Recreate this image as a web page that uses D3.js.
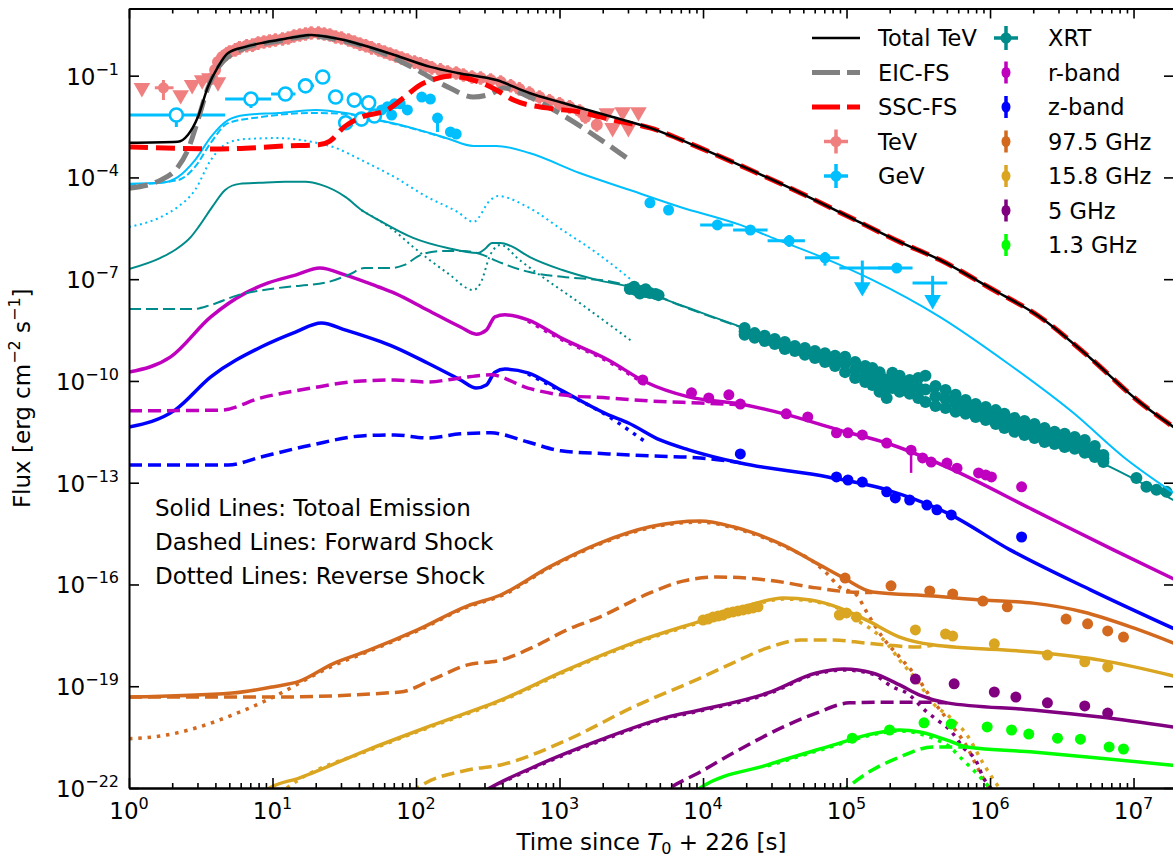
<!DOCTYPE html>
<html>
<head>
<meta charset="utf-8">
<script src="https://cdn.jsdelivr.net/npm/d3@7"></script>
<style>
  body { margin: 0; background: #fff; }
  svg { display: block; font-family: "DejaVu Sans", sans-serif; }
</style>
</head>
<body>
<svg id="chart" width="1173" height="858"></svg>
<script>
// every value below is [log10 t, log10 flux]
// (error-bar arrays add [xlo, xhi, ylo, yhi] in the same log units)

// ---- model curves ----
const totalTeV = [[0,-2.98],[0.34,-2.95],[0.41,-2.75],[0.48,-2.22],[0.55,-1.33],[0.62,-0.74],[0.69,-0.33],[0.81,-0.15],[0.92,-0.04],[1.04,0.05],[1.16,0.14],[1.27,0.2],[1.39,0.14],[1.5,0.05],[1.62,-0.09],[1.85,-0.39],[2.1,-0.74],[2.29,-0.92],[2.56,-1.13],[2.79,-1.51],[3.02,-1.8],[3.37,-2.22],[3.63,-2.54],[3.98,-3.13],[4.33,-3.78],[4.68,-4.46],[5.02,-5.17],[5.37,-5.9],[5.65,-6.43],[6.0,-7.26],[6.35,-8.12],[6.7,-9.33],[7.05,-10.65],[7.3,-11.42]];
const sscFS = [[0,-3.1],[0.64,-3.16],[1.11,-3.07],[1.32,-3.04],[1.4,-2.93],[1.5,-2.51],[1.62,-2.22],[1.8,-2.01],[1.92,-1.63],[2.03,-1.27],[2.13,-1.1],[2.24,-1.01],[2.4,-1.13],[2.56,-1.42],[2.68,-1.72],[2.91,-1.95],[3.14,-2.07],[3.37,-2.31],[3.63,-2.54],[3.98,-3.13],[4.33,-3.78],[4.68,-4.46],[5.02,-5.17],[5.37,-5.9],[5.65,-6.43],[6.0,-7.26],[6.35,-8.12],[6.7,-9.33],[7.05,-10.65],[7.3,-11.42]];
const eicFS = [[0,-4.32],[0.22,-4.08],[0.34,-3.7],[0.41,-3.19],[0.48,-2.31],[0.55,-1.36],[0.62,-0.77],[0.81,-0.18],[1.04,0.02],[1.27,0.17],[1.5,0.02],[1.75,-0.3],[1.98,-0.77],[2.22,-1.33],[2.4,-1.63],[2.52,-1.54],[2.61,-1.36],[2.79,-1.63],[3.02,-2.16],[3.26,-2.81],[3.51,-3.55]];

const gevTot = [[0,-4.19],[0.22,-4.16],[0.34,-3.99],[0.46,-3.49],[0.57,-2.81],[0.69,-2.31],[0.81,-2.16],[1.04,-2.1],[1.3,-2.01],[1.51,-2.1],[1.74,-2.31],[1.97,-2.54],[2.22,-2.85],[2.4,-3.07],[2.56,-3.07],[2.79,-3.28],[3.14,-3.87],[3.49,-4.37],[3.84,-4.87],[4.26,-5.4],[4.49,-5.79],[4.84,-6.37],[5.18,-7.02],[5.65,-8.11],[6.12,-9.47],[6.58,-10.94],[6.93,-12.24],[7.3,-13.36]];
const gevFS = [[0,-4.22],[0.34,-4.08],[0.46,-3.69],[0.57,-2.98],[0.69,-2.4],[0.92,-2.22],[1.27,-2.1],[1.51,-2.13],[1.74,-2.32],[1.97,-2.55],[2.22,-2.86]];
const gevRS = [[0,-5.46],[0.22,-5.17],[0.34,-4.87],[0.46,-4.37],[0.57,-3.49],[0.69,-2.98],[0.81,-2.87],[1.04,-2.84],[1.27,-2.95],[1.44,-3.13],[1.62,-3.49],[1.85,-3.99],[2.08,-4.58],[2.29,-5.02],[2.4,-5.31],[2.52,-4.66],[2.57,-4.55],[2.79,-4.9],[3.02,-5.55],[3.26,-6.23],[3.51,-7.05]];

const xrtTot = [[0,-6.7],[0.22,-6.37],[0.32,-6.14],[0.43,-5.76],[0.49,-5.43],[0.58,-4.87],[0.67,-4.37],[0.77,-4.19],[0.91,-4.16],[1.09,-4.13],[1.23,-4.13],[1.34,-4.22],[1.51,-4.58],[1.62,-4.96],[1.75,-5.28],[1.98,-5.78],[2.22,-6.08],[2.43,-6.23],[2.48,-6.11],[2.53,-5.93],[2.59,-5.93],[2.66,-6.02],[2.79,-6.34],[3.02,-6.73],[3.26,-7.02],[3.49,-7.23],[3.84,-7.76],[4.33,-8.5],[5.02,-9.44],[5.72,-10.5],[6.42,-11.74],[6.84,-12.54],[7.3,-13.56]];
const xrtFS = [[0,-7.88],[0.45,-7.88],[0.57,-7.76],[0.76,-7.47],[1.04,-7.26],[1.39,-7.08],[1.54,-6.85],[1.64,-6.67],[1.83,-6.67],[1.92,-6.58],[2.03,-6.29],[2.17,-6.17],[2.33,-6.17],[2.47,-6.29],[2.56,-6.46],[2.79,-6.79],[3.02,-6.93],[3.37,-7.08],[3.56,-7.29],[3.84,-7.77],[4.33,-8.51]];
const xrtRS = [[1.62,-4.97],[1.75,-5.29],[1.85,-5.58],[1.98,-6.05],[2.22,-6.82],[2.4,-7.32],[2.45,-7.11],[2.52,-6.26],[2.59,-5.99],[2.72,-6.43],[2.91,-7.02],[3.14,-7.7],[3.37,-8.41],[3.51,-8.85]];

const rTot = [[0,-9.74],[0.29,-9.29],[0.57,-8.11],[0.81,-7.41],[0.97,-7.11],[1.16,-6.88],[1.33,-6.67],[1.51,-6.88],[1.74,-7.23],[1.85,-7.41],[2.08,-7.91],[2.31,-8.41],[2.42,-8.62],[2.49,-8.5],[2.55,-8.11],[2.62,-8.05],[2.78,-8.2],[3.01,-8.73],[3.34,-9.38],[3.6,-10.03],[3.9,-10.47],[4.26,-10.68],[4.59,-11.0],[4.95,-11.45],[5.28,-11.83],[5.7,-12.54],[6.3,-13.8],[6.86,-14.98],[7.3,-15.88]];
const rFS = [[0,-10.88],[0.64,-10.86],[0.92,-10.5],[1.27,-10.21],[1.62,-10.0],[1.85,-9.97],[2.08,-10.03],[2.31,-9.91],[2.52,-9.82],[2.78,-10.21],[3.01,-10.41],[3.34,-10.5],[3.63,-10.59],[3.98,-10.65],[4.26,-10.7]];
const rRS = [[2.78,-8.23],[3.01,-8.77],[3.34,-9.43],[3.55,-9.97],[3.62,-10.16]];

const zTot = [[0,-11.36],[0.32,-10.86],[0.57,-9.88],[0.92,-9.0],[1.16,-8.56],[1.34,-8.29],[1.51,-8.5],[1.85,-9.0],[2.08,-9.47],[2.31,-9.97],[2.42,-10.21],[2.49,-10.12],[2.55,-9.74],[2.62,-9.65],[2.78,-9.76],[3.01,-10.27],[3.34,-11.0],[3.48,-11.24],[3.7,-11.74],[3.9,-12.03],[4.26,-12.42],[4.87,-12.83],[5.28,-13.21],[5.7,-13.89],[6.14,-14.98],[6.7,-16.16],[7.3,-17.34]];
const zFS = [[0,-12.48],[0.69,-12.48],[0.92,-12.24],[1.27,-11.89],[1.62,-11.62],[1.85,-11.59],[2.08,-11.68],[2.31,-11.56],[2.52,-11.53],[2.78,-11.8],[3.01,-12.06],[3.34,-12.15],[3.63,-12.21],[3.98,-12.27],[4.26,-12.41]];
const zRS = [[2.78,-9.79],[3.01,-10.3],[3.34,-11.04],[3.5,-11.5],[3.6,-11.8]];

const g97Tot = [[0,-19.32],[0.72,-19.2],[1.0,-19.02],[1.19,-18.85],[1.42,-18.34],[1.66,-17.96],[2.01,-17.34],[2.36,-16.63],[2.59,-16.31],[2.93,-15.48],[3.28,-14.78],[3.63,-14.3],[3.98,-14.13],[4.21,-14.3],[4.33,-14.45],[4.56,-14.84],[4.79,-15.37],[4.98,-15.81],[5.18,-16.22],[5.6,-16.34],[5.95,-16.46],[6.3,-16.55],[6.65,-16.81],[7.0,-17.28],[7.3,-17.76]];
const g97FS = [[0,-19.32],[0.96,-19.32],[1.89,-19.17],[2.12,-18.79],[2.36,-18.37],[2.59,-18.23],[2.82,-17.84],[3.05,-17.34],[3.28,-16.96],[3.63,-16.25],[3.86,-15.9],[4.1,-15.78],[4.45,-15.87],[4.79,-16.1],[5.02,-16.22],[5.18,-16.24]];
const g97RS = [[0,-20.55],[0.26,-20.44],[0.49,-20.2],[0.72,-19.85],[0.96,-19.41],[1.1,-19.11],[1.19,-18.9],[1.42,-18.4],[1.66,-17.99],[2.01,-17.37],[2.36,-16.66],[2.59,-16.34],[2.93,-15.51],[3.28,-14.81],[3.63,-14.33],[3.98,-14.16],[4.21,-14.33],[4.33,-14.48],[4.56,-14.87],[4.79,-15.4],[4.86,-15.66],[4.95,-16.07],[5.07,-16.31],[5.14,-16.81],[5.25,-17.55],[5.37,-18.14],[5.49,-18.73],[5.6,-19.41],[5.72,-20.08],[5.84,-20.79],[5.91,-21.38],[5.98,-21.91],[6.02,-22.2]];

const g15Tot = [[0.9,-22.25],[0.98,-22.0],[1.19,-21.7],[1.66,-20.88],[2.12,-20.14],[2.59,-19.41],[3.05,-18.52],[3.51,-17.73],[4.05,-16.99],[4.33,-16.6],[4.56,-16.4],[4.75,-16.46],[4.95,-16.69],[5.14,-17.05],[5.37,-17.55],[5.6,-17.78],[6.3,-17.99],[6.77,-18.23],[7.3,-18.72]];
const g15FS = [[1.95,-22.2],[2.01,-22.0],[2.36,-21.47],[2.59,-21.32],[3.05,-20.59],[3.51,-19.62],[3.98,-18.76],[4.21,-18.31],[4.45,-17.87],[4.68,-17.64],[4.91,-17.64],[5.14,-17.73],[5.49,-17.84],[5.6,-17.79]];
const g15RS = [[1.1,-22.0],[1.19,-21.74],[1.66,-20.91],[2.12,-20.17],[2.59,-19.44],[3.05,-18.55],[3.51,-17.76],[4.05,-17.02],[4.33,-16.63],[4.56,-16.43],[4.75,-16.49],[4.95,-16.72],[5.07,-17.05],[5.18,-17.34],[5.28,-17.73],[5.37,-18.23],[5.49,-18.82],[5.6,-19.49],[5.72,-19.91],[5.84,-20.44],[5.95,-21.26],[6.05,-21.91],[6.1,-22.2]];

const g5Tot = [[2.4,-22.3],[2.49,-22.06],[2.82,-21.38],[3.28,-20.59],[3.75,-19.91],[3.98,-19.7],[4.45,-19.2],[4.79,-18.61],[4.98,-18.49],[5.18,-18.61],[5.37,-18.96],[5.51,-19.26],[5.7,-19.49],[6.3,-19.7],[6.77,-19.91],[7.3,-20.22]];
const g5FS = [[3.68,-22.3],[3.75,-22.06],[3.98,-21.53],[4.21,-20.97],[4.56,-20.2],[4.79,-19.79],[5.02,-19.49],[5.25,-19.47],[5.51,-19.47],[5.7,-19.49]];
const g5RS = [[2.42,-22.3],[2.51,-22.05],[2.82,-21.41],[3.28,-20.62],[3.75,-19.94],[3.98,-19.73],[4.45,-19.23],[4.79,-18.64],[4.98,-18.52],[5.18,-18.64],[5.32,-19.02],[5.42,-19.2],[5.56,-19.76],[5.65,-20.05],[5.72,-20.29],[5.81,-20.79],[5.91,-21.26],[5.95,-21.67],[6.0,-21.97],[6.04,-22.2]];

const g13Tot = [[3.9,-22.25],[3.98,-22.0],[4.45,-21.32],[4.91,-20.73],[5.14,-20.44],[5.37,-20.29],[5.51,-20.35],[5.7,-20.59],[5.84,-20.79],[6.3,-20.94],[6.77,-21.12],[7.3,-21.34]];
const g13FS = [[4.94,-22.2],[5.0,-22.0],[5.18,-21.47],[5.37,-21.09],[5.6,-20.79],[5.84,-20.79]];
const g13RS = [[4.45,-21.35],[4.91,-20.76],[5.14,-20.47],[5.37,-20.32],[5.49,-20.38],[5.6,-20.53],[5.72,-20.79],[5.81,-21.17],[5.87,-21.41],[5.93,-21.67],[5.98,-21.91],[6.02,-22.2]];

// ---- observations ----
const tevPoints = [[0.58,-1.07],[0.6,-0.83],[0.62,-0.6],[0.65,-0.45],[0.68,-0.36],[0.7,-0.3],[0.74,-0.24],[0.77,-0.18],[0.82,-0.12],[0.86,-0.1],[0.9,-0.04],[0.94,-0.01],[0.98,0.02],[1.02,0.05],[1.07,0.08],[1.11,0.11],[1.15,0.17],[1.19,0.2],[1.23,0.23],[1.27,0.26],[1.32,0.26],[1.36,0.23],[1.4,0.2],[1.44,0.14],[1.48,0.11],[1.53,0.05],[1.57,-0.01],[1.61,-0.07],[1.65,-0.12],[1.69,-0.18],[1.74,-0.24],[1.78,-0.3],[1.82,-0.36],[1.86,-0.42],[1.9,-0.48],[1.94,-0.54],[1.99,-0.6],[2.03,-0.65],[2.07,-0.71],[2.11,-0.77],[2.17,-0.83],[2.22,-0.89],[2.28,-0.92],[2.33,-0.98],[2.39,-1.04],[2.45,-1.07],[2.52,-1.13],[2.59,-1.19],[2.66,-1.3],[2.72,-1.39],[2.79,-1.51],[2.86,-1.63],[2.93,-1.74],[3.0,-1.83],[3.07,-1.92],[3.14,-2.04],[3.18,-2.22],[3.26,-2.45]];
const tevErr = 0.2;
const tevCross = [[0.24,-1.36,0.18,0.31,-1.72,-1.13]];
const tevLimits = [[0.09,-1.36],[0.36,-1.57],[0.44,-1.27],[0.51,-1.13],[0.56,-1.07],[0.62,-1.19],[3.33,-2.1],[3.44,-2.07],[3.55,-2.07],[3.37,-2.54],[3.48,-2.54]];

const gevOpen = [[0.33,-2.16,0,0.67,-2.51,null],[0.85,-1.69,0.67,0.99,-1.95,null],[1.09,-1.54,0.99,1.16,-1.7,null],[1.23,-1.3,1.19,1.29,null,null],[1.35,-1.04,null,null,null,null],[1.44,-1.63,null,null,null,null],[1.57,-1.72,null,null,null,null],[1.67,-1.8,null,null,null,null],[1.51,-2.39,null,null,null,null],[1.62,-2.28,null,null,null,null],[1.71,-2.19,null,null,null,null]];
const gevFilled = [[1.76,-2.01,null,null,null,null],[1.8,-1.92,null,null,null,null],[1.85,-1.83,null,null,null,null],[1.83,-2.16,null,null,null,null],[1.89,-1.83,null,null,null,null],[1.94,-2.01,null,null,null,null],[2.04,-1.63,null,null,null,null],[2.1,-1.69,null,null,null,null],[2.15,-2.25,null,null,-2.66,null],[2.24,-2.66,null,null,null,null],[2.28,-2.72,null,null,null,null],[3.63,-4.75,null,null,null,null],[3.76,-4.96,null,null,null,null],[4.1,-5.4,3.98,4.21,-5.55,-5.25],[4.33,-5.55,4.21,4.45,-5.7,-5.4],[4.6,-5.87,4.45,4.71,-6.05,-5.7],[4.85,-6.37,4.71,4.95,-6.6,-6.2],[5.35,-6.67,5.22,5.46,null,null]];
const gevLimits = [[5.11,-6.67,4.95,5.34,-7.23,-6.45],[5.6,-7.11,5.46,5.7,-7.61,-6.9]];

const xrtPoints = [[3.49,-7.29],[3.53,-7.32],[3.56,-7.35],[3.6,-7.38],[3.63,-7.41],[3.67,-7.44],[3.69,-7.47],[3.52,-7.22],[3.6,-7.3],[3.56,-7.42],
  [4.29,-8.44],[4.29,-8.54],[4.29,-8.64],[4.36,-8.59],[4.36,-8.66],[4.36,-8.73],[4.43,-8.67],[4.43,-8.75],[4.43,-8.82],[4.5,-8.76],[4.5,-8.84],[4.5,-8.91],
  [4.57,-8.85],[4.57,-8.95],[4.57,-9.06],[4.64,-8.97],[4.64,-9.05],[4.64,-9.12],[4.71,-9.03],[4.71,-9.13],[4.71,-9.23],[4.78,-9.12],[4.78,-9.22],[4.78,-9.32],
  [4.85,-9.18],[4.85,-9.31],[4.85,-9.44],[4.92,-9.26],[4.92,-9.41],[4.92,-9.56],
  [4.99,-9.29],[4.99,-9.5],[4.99,-9.74],[5.06,-9.44],[5.06,-9.67],[5.06,-9.91],[5.13,-9.56],[5.13,-9.8],[5.13,-10.03],[5.18,-9.62],[5.18,-9.87],[5.18,-10.12],
  [5.23,-9.74],[5.23,-10.03],[5.23,-10.32],[5.28,-9.97],[5.28,-10.23],[5.28,-10.5],[5.32,-9.76],[5.32,-9.99],[5.32,-10.21],[5.37,-9.85],[5.37,-10.08],[5.37,-10.32],
  [5.44,-9.97],[5.44,-10.18],[5.44,-10.38],[5.5,-9.91],[5.5,-10.2],[5.5,-10.5],[5.55,-9.85],[5.55,-10.25],[5.55,-10.62],[5.62,-10.15],[5.62,-10.45],[5.62,-10.74],
  [5.69,-10.27],[5.69,-10.53],[5.69,-10.8],[5.76,-10.41],[5.76,-10.66],[5.76,-10.91],[5.83,-10.56],[5.83,-10.77],[5.83,-10.97],[5.9,-10.68],[5.9,-10.87],[5.9,-11.06],
  [5.97,-10.77],[5.97,-10.96],[5.97,-11.15],[6.04,-10.86],[6.04,-11.06],[6.04,-11.27],[6.1,-10.97],[6.1,-11.18],[6.1,-11.39],[6.17,-11.09],[6.17,-11.3],[6.17,-11.5],
  [6.24,-11.18],[6.24,-11.38],[6.24,-11.59],[6.31,-11.27],[6.31,-11.47],[6.31,-11.68],[6.38,-11.39],[6.38,-11.6],[6.38,-11.8],[6.45,-11.5],[6.45,-11.68],[6.45,-11.86],
  [6.52,-11.56],[6.52,-11.75],[6.52,-11.95],[6.59,-11.65],[6.59,-11.82],[6.59,-12.0],[6.66,-11.74],[6.66,-11.93],[6.66,-12.12],[6.73,-11.92],[6.73,-12.08],[6.73,-12.24],
  [6.79,-12.18],[6.79,-12.28],[6.79,-12.39],
  [7.02,-12.86],[7.09,-13.12],[7.16,-13.21],[7.23,-13.27]];

const rPoints = [[3.58,-9.97],[3.92,-10.35],[4.04,-10.5],[4.18,-10.41],[4.26,-10.68],[4.58,-10.97],[4.73,-11.06],[4.93,-11.53],[5.01,-11.53],[5.11,-11.59],[5.28,-11.83],[5.45,-12.04],[5.53,-12.27],[5.59,-12.39],[5.7,-12.42],[5.77,-12.57],[5.92,-12.71],[5.97,-12.77],[6.01,-12.83],[6.22,-13.12]];
const rErrLow = [[5.45,-12.04,-12.71]];
const zPoints = [[4.26,-12.15],[4.93,-12.83],[5.01,-12.92],[5.11,-12.98],[5.28,-13.27],[5.34,-13.45],[5.44,-13.51],[5.56,-13.66],[5.63,-13.8],[5.73,-13.95],[6.22,-14.6]];
const g97Points = [[4.99,-15.81],[5.31,-16.04],[5.58,-16.19],[5.74,-16.28],[5.95,-16.49],[6.12,-16.66],[6.53,-17.02],[6.68,-17.16],[6.82,-17.37],[6.93,-17.55]];
const g15Points = [[4.0,-17.05],[4.035,-17.02],[4.07,-16.96],[4.105,-16.93],[4.139,-16.9],[4.174,-16.84],[4.209,-16.81],[4.244,-16.78],[4.279,-16.75],[4.314,-16.72],[4.348,-16.69],[4.383,-16.66],[4.95,-16.9],[5.0,-16.84],[5.07,-16.96],[5.48,-17.34],[5.69,-17.46],[5.74,-17.52],[6.03,-17.75],[6.4,-18.08],[6.66,-18.28],[6.82,-18.43]];
const g5Points = [[5.48,-18.79],[5.75,-18.93],[6.03,-19.17],[6.18,-19.32],[6.4,-19.49],[6.66,-19.58],[6.82,-19.79]];
const g13Points = [[5.04,-20.53],[5.3,-20.29],[5.54,-20.08],[5.73,-20.11],[5.98,-20.2],[6.15,-20.29],[6.27,-20.41],[6.47,-20.53],[6.63,-20.56],[6.83,-20.79],[6.93,-20.85]];

// ---- axes ----
const xMajor = [0, 1, 2, 3, 4, 5, 6, 7];
const yMajor = [-22, -19, -16, -13, -10, -7, -4, -1];
const legendLeft = ["Total TeV", "EIC-FS", "SSC-FS", "TeV", "GeV"];
const legendRight = ["XRT", "r-band", "z-band", "97.5 GHz", "15.8 GHz", "5 GHz", "1.3 GHz"];
const noteLines = ["Solid Lines: Totoal Emission", "Dashed Lines: Forward Shock", "Dotted Lines: Reverse Shock"];

const C = {
  tev: "#f08080", gev: "#00bfff", xrt: "#008b8b", r: "#bf00bf", z: "#0000ff",
  g97: "#d2691e", g15: "#daa520", g5: "#800080", g13: "#00ff00"
};

const svg = d3.select("#chart");
const box = { left: 129, right: 1174, top: 8.5, bottom: 788 };

const x = d3.scaleLog().domain([1, Math.pow(10, 7.282)]).range([box.left, box.right]);
const y = d3.scaleLog().domain([1e-22, Math.pow(10, 0.98)]).range([box.bottom, box.top]);
const px = (lt) => x(Math.pow(10, lt));
const py = (lf) => y(Math.pow(10, lf));

svg.append("rect").attr("width", 1173).attr("height", 858).attr("fill", "#fff");

svg.append("defs").append("clipPath").attr("id", "plotclip")
  .append("rect")
  .attr("x", box.left).attr("y", box.top)
  .attr("width", box.right - box.left).attr("height", box.bottom - box.top);

const plot = svg.append("g").attr("clip-path", "url(#plotclip)");

const line = d3.line()
  .x((d) => px(d[0]))
  .y((d) => py(d[1]))
  .curve(d3.curveMonotoneX);

function curve(data, color, width, dash) {
  plot.append("path")
    .datum(data)
    .attr("d", line)
    .attr("fill", "none")
    .attr("stroke", color)
    .attr("stroke-width", width)
    .attr("stroke-dasharray", dash || null)
    .attr("stroke-linejoin", "round");
}

function seg(g, x1, y1, x2, y2, color, w) {
  g.append("line").attr("x1", x1).attr("y1", y1).attr("x2", x2).attr("y2", y2)
    .attr("stroke", color).attr("stroke-width", w);
}

// points with optional error bars: [lt, lf, xlo, xhi, ylo, yhi]
function points(data, color, r, opts = {}) {
  const g = plot.append("g");
  data.forEach((d) => {
    const cx = px(d[0]), cy = py(d[1]);
    if (d[2] != null) seg(g, px(d[2]), cy, px(d[3]), cy, color, opts.bw || 3);
    if (d[4] != null) seg(g, cx, py(d[4]), cx, cy, color, opts.bw || 3);
    if (d[5] != null) seg(g, cx, cy, cx, py(d[5]), color, opts.bw || 3);
  });
  g.selectAll("circle").data(data).join("circle")
    .attr("cx", (d) => px(d[0]))
    .attr("cy", (d) => py(d[1]))
    .attr("r", r)
    .attr("fill", opts.open ? "#fff" : color)
    .attr("stroke", opts.open ? color : "none")
    .attr("stroke-width", opts.open ? 2.6 : 0);
  return g;
}

const triDown = d3.symbol().type(d3.symbolTriangle).size(120);
function limits(data, color) {
  plot.append("g").selectAll("path").data(data).join("path")
    .attr("d", triDown)
    .attr("transform", (d) => `translate(${px(d[0])},${py(d[1])}) rotate(180)`)
    .attr("fill", color);
}

// radio (bottom of the stack)
const dotW = (w) => `${w},${(w * 1.65).toFixed(1)}`;
[[g97Tot, g97FS, g97RS, C.g97], [g15Tot, g15FS, g15RS, C.g15],
 [g5Tot, g5FS, g5RS, C.g5], [g13Tot, g13FS, g13RS, C.g13]].forEach(([t, f, r, c]) => {
  curve(r, c, 3.5, dotW(3.5));
  curve(f, c, 3.5, "13,6");
  curve(t, c, 3.5);
});
points(g97Points, C.g97, 5.5);
points(g15Points, C.g15, 5.5);
points(g5Points, C.g5, 5.5);
points(g13Points, C.g13, 5.5);

// optical
curve(zRS, C.z, 3.5, dotW(3.5));
curve(zFS, C.z, 3.5, "13,6");
curve(zTot, C.z, 3.5);
curve(rRS, C.r, 3.5, dotW(3.5));
curve(rFS, C.r, 3.5, "13,6");
curve(rTot, C.r, 3.5);
points(zPoints, C.z, 5.5);
const rg = points(rPoints, C.r, 5.5);
rErrLow.forEach((d) => seg(rg, px(d[0]), py(d[1]), px(d[0]), py(d[2]), C.r, 2.5));

// X-ray
curve(xrtRS, C.xrt, 2, "2,3.6");
curve(xrtFS, C.xrt, 2, "12,5");
curve(xrtTot, C.xrt, 2);
points(xrtPoints, C.xrt, 6);

// GeV
curve(gevRS, C.gev, 2, "2,3.6");
curve(gevFS, C.gev, 2, "7,3");
curve(gevTot, C.gev, 2);
points(gevFilled, C.gev, 5.5);
const gl = plot.append("g");
gevLimits.forEach((d) => {
  const cx = px(d[0]), cy = py(d[1]);
  seg(gl, px(d[2]), cy, px(d[3]), cy, C.gev, 3);
  seg(gl, cx, py(d[5]), cx, py(d[4]), C.gev, 3);
});
limits(gevLimits.map((d) => [d[0], d[4]]), C.gev);
points(gevOpen, C.gev, 6.5, { open: true });

// TeV data
const tg = plot.append("g");
tevPoints.forEach((d) => seg(tg, px(d[0]), py(d[1] - tevErr), px(d[0]), py(d[1] + tevErr), C.tev, 3));
points(tevPoints, C.tev, 6);
points(tevCross, C.tev, 5.5);
limits(tevLimits, C.tev);

// TeV models on top
curve(eicFS, "#808080", 5, "19,8");
curve(sscFS, "#ff0000", 5, "19,8");
curve(totalTeV, "#000000", 2.5);

// ---- axes: inward ticks on all four sides ----
const xMinor = [];
xMajor.forEach((k) => d3.range(2, 10).forEach((m) => {
  const v = m * Math.pow(10, k);
  if (v < x.domain()[1]) xMinor.push(v);
}));
const xMaj = xMajor.map((k) => Math.pow(10, k));
const yMaj = yMajor.map((k) => Math.pow(10, k));

function styleAxis(g) {
  g.select(".domain").attr("stroke", "#000").attr("stroke-width", 2);
  g.selectAll(".tick line").attr("stroke", "#000").attr("stroke-width", 1.6);
}

svg.append("g").attr("transform", `translate(0,${box.bottom})`)
  .call(d3.axisBottom(x).tickValues(xMaj).tickSize(-10).tickSizeOuter(0).tickFormat(""))
  .call(styleAxis);
svg.append("g").attr("transform", `translate(0,${box.bottom})`)
  .call(d3.axisBottom(x).tickValues(xMinor).tickSize(-5).tickSizeOuter(0).tickFormat(""))
  .call(styleAxis);
svg.append("g").attr("transform", `translate(0,${box.top})`)
  .call(d3.axisTop(x).tickValues(xMaj).tickSize(-10).tickSizeOuter(0).tickFormat(""))
  .call(styleAxis);
svg.append("g").attr("transform", `translate(0,${box.top})`)
  .call(d3.axisTop(x).tickValues(xMinor).tickSize(-5).tickSizeOuter(0).tickFormat(""))
  .call(styleAxis);
svg.append("g").attr("transform", `translate(${box.left},0)`)
  .call(d3.axisLeft(y).tickValues(yMaj).tickSize(-10).tickSizeOuter(0).tickFormat(""))
  .call(styleAxis);
svg.append("g").attr("transform", `translate(${box.right},0)`)
  .call(d3.axisRight(y).tickValues(yMaj).tickSize(-10).tickSizeOuter(0).tickFormat(""))
  .call(styleAxis);

function powLabel(sel, exp) {
  sel.append("tspan").text("10");
  sel.append("tspan").attr("dy", -10).attr("font-size", 16)
    .text(exp < 0 ? "\u2212" + Math.abs(exp) : String(exp));
}

xMajor.forEach((k) => {
  svg.append("text")
    .attr("x", px(k)).attr("y", 819)
    .attr("text-anchor", "middle").attr("font-size", 23)
    .call(powLabel, k);
});
yMajor.forEach((k) => {
  svg.append("text")
    .attr("x", 119).attr("y", py(k) + 9)
    .attr("text-anchor", "end").attr("font-size", 23)
    .call(powLabel, k);
});

// axis titles
const xt = svg.append("text")
  .attr("x", (box.left + box.right) / 2).attr("y", 850)
  .attr("text-anchor", "middle").attr("font-size", 23);
xt.append("tspan").text("Time since ");
xt.append("tspan").attr("font-style", "italic").text("T");
xt.append("tspan").attr("font-size", 16).attr("dy", 4).text("0");
xt.append("tspan").attr("dy", -4).text(" + 226 [s]");

const yt = svg.append("text")
  .attr("transform", `translate(30,${(box.top + box.bottom) / 2}) rotate(-90)`)
  .attr("text-anchor", "middle").attr("font-size", 23);
yt.append("tspan").text("Flux [erg cm");
yt.append("tspan").attr("font-size", 16).attr("dy", -10).text("\u22122");
yt.append("tspan").attr("dy", 10).text(" s");
yt.append("tspan").attr("font-size", 16).attr("dy", -10).text("\u22121");
yt.append("tspan").attr("dy", 10).text("]");

// ---- note ----
noteLines.forEach((t, i) => {
  svg.append("text").attr("x", 155).attr("y", 516 + i * 34)
    .attr("font-size", 23).text(t);
});

// ---- legend ----
const leg = svg.append("g");
const rowY = (i) => 38 + i * 34.5;
function crossHandle(cx, cy, color) {
  seg(leg, cx - 12, cy, cx + 12, cy, color, 3.5);
  seg(leg, cx, cy - 12, cx, cy + 12, color, 3.5);
  leg.append("circle").attr("cx", cx).attr("cy", cy).attr("r", 5.5).attr("fill", color);
}
function barHandle(cx, cy, color) {
  seg(leg, cx, cy - 11, cx, cy + 11, color, 3.5);
  leg.append("ellipse").attr("cx", cx).attr("cy", cy).attr("rx", 4.5).attr("ry", 5.5).attr("fill", color);
}
const lineStyles = [["#000", 2.5, null], ["#808080", 5, "28,7"], ["#ff0000", 5, "28,7"]];
legendLeft.forEach((t, i) => {
  const cy = rowY(i);
  if (i < 3) {
    const [c, w, dsh] = lineStyles[i];
    leg.append("line").attr("x1", 812).attr("x2", 860).attr("y1", cy).attr("y2", cy)
      .attr("stroke", c).attr("stroke-width", w).attr("stroke-dasharray", dsh);
  } else {
    crossHandle(836, cy, i === 3 ? C.tev : C.gev);
  }
  leg.append("text").attr("x", 878).attr("y", cy + 8).attr("font-size", 22.5).text(t);
});
const rightColors = [C.xrt, C.r, C.z, C.g97, C.g15, C.g5, C.g13];
legendRight.forEach((t, i) => {
  const cy = rowY(i);
  if (i === 0) crossHandle(1006, cy, rightColors[i]);
  else barHandle(1006, cy, rightColors[i]);
  leg.append("text").attr("x", 1048).attr("y", cy + 8).attr("font-size", 22.5).text(t);
});
</script>
</body>
</html>
